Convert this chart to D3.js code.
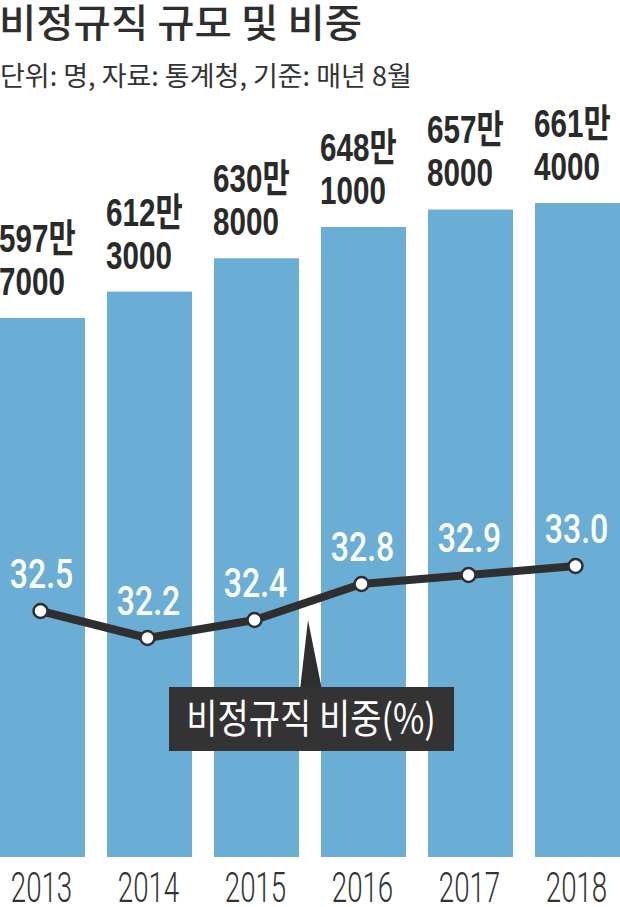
<!DOCTYPE html>
<html><head><meta charset="utf-8">
<script src="https://cdn.jsdelivr.net/npm/d3@7/dist/d3.min.js"></script>
<style>body{margin:0;background:#fff}svg{display:block}</style>
</head><body>
<script>
const years = ["2013","2014","2015","2016","2017","2018"];
const workers = [5977000, 6123000, 6308000, 6481000, 6578000, 6614000];
const workerLabels1 = ["597만","612만","630만","648만","657만","661만"];
const workerLabels2 = ["7000","3000","8000","1000","8000","4000"];
const shares = [32.5, 32.2, 32.4, 32.8, 32.9, 33.0];
const shareLabels = ["32.5","32.2","32.4","32.8","32.9","33.0"];
const titleText = "비정규직 규모 및 비중";
const subtitleText = "단위: 명, 자료: 통계청, 기준: 매년 8월";
const legendText = "비정규직 비중(%)";

const W = 620, H = 907;
const svg = d3.select("body").append("svg").attr("width", W).attr("height", H);

const x = d3.scaleBand().domain(years).range([0, 620]).paddingInner(0.2056).paddingOuter(0);
const yBar = d3.scaleLinear().domain([2991000, 6614000]).range([857, 203]);
const yLine = d3.scaleLinear().domain([32.2, 33.0]).range([638, 566]);

const KR = "'Noto Sans CJK KR', sans-serif";
const NUM = "'Liberation Sans', 'Noto Sans CJK KR', sans-serif";
const LIGHT = "Roboto, 'Liberation Sans', sans-serif";

function ctext(g, tx, ty, sx, txt) {
  return g.append("text").attr("transform", `translate(${tx},${ty}) scale(${sx},1)`).text(txt);
}

// title
ctext(svg, -1, 37, 1.04, titleText).attr("font-family", KR).attr("font-size", 39)
  .attr("font-weight", 500).attr("fill", "#2e2e2e");
ctext(svg, 0, 86, 1.0, subtitleText).attr("font-family", KR).attr("font-size", 27)
  .attr("font-weight", 400).attr("fill", "#333");

// bars
svg.append("g").selectAll("rect").data(years).join("rect")
  .attr("x", d => x(d)).attr("width", x.bandwidth())
  .attr("y", (d, i) => yBar(workers[i]))
  .attr("height", (d, i) => yBar.range()[0] - yBar(workers[i]))
  .attr("fill", "#6aaed6");

// top labels
const tl = svg.append("g").attr("font-family", NUM).attr("font-weight", 700)
  .attr("font-size", 39).attr("fill", "#2a2a2a");
years.forEach((d, i) => {
  const top = yBar(workers[i]);
  ctext(tl, x(d) - 1, top - 66, 0.76, workerLabels1[i]);
  ctext(tl, x(d) - 1, top - 23, 0.76, workerLabels2[i]);
});

// line
const cx = d => x(d) + x.bandwidth() / 2 - 2;
const line = d3.line().x((d, i) => cx(years[i])).y(d => yLine(d));

// pointer triangle
const ann = svg.append("g");
ann.append("path")
  .attr("d", `M300,690 L308,620 L322,690 Z`)
  .attr("fill", "#2f2f2f");
ann.append("rect").attr("x", 169).attr("y", 687).attr("width", 285).attr("height", 64)
  .attr("fill", "#333");
ctext(ann, 311, 733, 0.85, legendText).attr("text-anchor", "middle")
  .attr("font-family", KR).attr("font-size", 40).attr("fill", "#fff");

svg.append("path").datum(shares).attr("d", line).attr("fill", "none")
  .attr("stroke", "#2f2f2f").attr("stroke-width", 8).attr("stroke-linejoin", "round");

svg.append("g").selectAll("circle").data(shares).join("circle")
  .attr("cx", (d, i) => cx(years[i])).attr("cy", d => yLine(d)).attr("r", 7)
  .attr("fill", "#fff").attr("stroke", "#2f2f2f").attr("stroke-width", 2.5);

const vl = svg.append("g").attr("font-family", LIGHT).attr("font-size", 40)
  .attr("font-weight", 500).attr("fill", "#fff").attr("text-anchor", "middle");
shares.forEach((d, i) => {
  ctext(vl, cx(years[i]) + 1, yLine(d) - 23, 0.8, shareLabels[i]);
});

// x axis labels
const xa = svg.append("g").attr("transform", "translate(0,902)");
const axis = d3.axisBottom(x).tickSize(0).tickPadding(0);
xa.call(axis);
xa.select(".domain").remove();
xa.selectAll(".tick text").attr("font-family", LIGHT).attr("font-size", 42)
  .attr("fill", "#333").attr("dy", 0).attr("y", 0)
  .attr("transform", "scale(0.66,1)")
  .attr("font-weight", 300);
xa.selectAll(".tick").each(function(d) {
  d3.select(this).attr("transform", `translate(${x(d) + x.bandwidth() / 2 - 1},0)`);
});
</script>
</body></html>
